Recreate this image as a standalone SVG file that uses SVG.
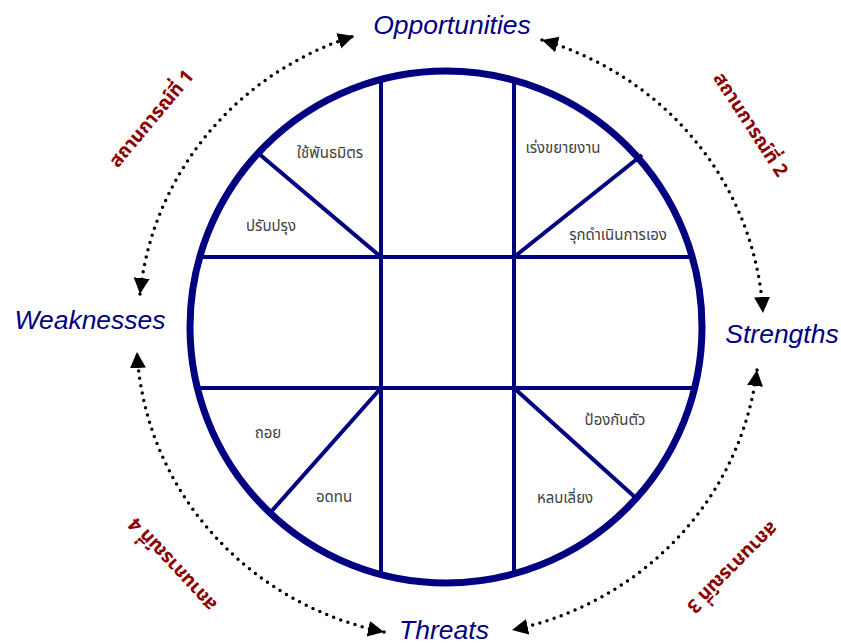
<svg xmlns="http://www.w3.org/2000/svg" width="841" height="644" viewBox="0 0 841 644">
<style>
.grid{stroke:#000080;stroke-width:4;fill:none;stroke-linecap:butt}
.ring{stroke:#000080;stroke-width:7;fill:none}
.cell{font-family:Tahoma,"Noto Sans Thai","Noto Sans","DejaVu Sans",sans-serif;font-size:15px;fill:#404040;text-anchor:middle}
.axis{font-family:"Liberation Sans",Arial,sans-serif;font-style:italic;font-size:26.5px;fill:#000080;text-anchor:middle}
.scen{font-family:Tahoma,"Noto Sans Thai","Noto Sans","DejaVu Sans",sans-serif;font-weight:bold;font-size:19px;fill:#8B0000;text-anchor:middle;dominant-baseline:central}
.dots{stroke:#000;stroke-width:3.5;fill:none;stroke-linecap:round;stroke-dasharray:0 7.5;marker-start:url(#ah);marker-end:url(#ah)}
</style>
<defs>
<marker id="ah" markerUnits="userSpaceOnUse" markerWidth="18" markerHeight="18" refX="16" refY="8" orient="auto-start-reverse" viewBox="0 0 18 18">
<path d="M0,0 L16,8 L0,16 z" fill="#000" stroke="none"/>
</marker>
</defs>
<g id="connectors">
<path class="dots" d="M140,294 A312,303 0 0 1 354,36"/>
<path class="dots" d="M542,40 A312,303 0 0 1 763,313"/>
<path class="dots" d="M757,370 A312,303 0 0 1 512,630"/>
<path class="dots" d="M384,632 A312,303 0 0 1 137,352"/>
</g>
<g id="wheel">
<line class="grid" x1="381" y1="79" x2="381" y2="575"/>
<line class="grid" x1="514" y1="79" x2="514" y2="575"/>
<line class="grid" x1="199" y1="257" x2="693" y2="257"/>
<line class="grid" x1="196" y1="388" x2="696" y2="388"/>
<line class="grid" x1="381" y1="257" x2="258" y2="153"/>
<line class="grid" x1="514" y1="257" x2="642" y2="155"/>
<line class="grid" x1="381" y1="388" x2="270" y2="513"/>
<line class="grid" x1="514" y1="388" x2="637" y2="499"/>
<circle class="ring" cx="446" cy="327" r="256"/>
</g>
<g id="cell-alliance"><text class="cell" x="330" y="158">ใช้พันธมิตร</text></g>
<g id="cell-improve"><text class="cell" x="271" y="231">ปรับปรุง</text></g>
<g id="cell-expand"><text class="cell" x="563" y="153">เร่งขยายงาน</text></g>
<g id="cell-attack"><text class="cell" x="618" y="240">รุกดำเนินการเอง</text></g>
<g id="cell-retreat"><text class="cell" x="268" y="438">ถอย</text></g>
<g id="cell-endure"><text class="cell" x="334" y="502">อดทน</text></g>
<g id="cell-defend"><text class="cell" x="615" y="425">ป้องกันตัว</text></g>
<g id="cell-avoid"><text class="cell" x="565" y="503">หลบเลี่ยง</text></g>
<g id="opportunities"><text class="axis" x="452" y="34">Opportunities</text></g>
<g id="weaknesses"><text class="axis" x="90" y="329">Weaknesses</text></g>
<g id="strengths"><text class="axis" x="782" y="343">Strengths</text></g>
<g id="threats"><text class="axis" x="444" y="639">Threats</text></g>
<g id="scenario-1"><text class="scen" x="152" y="119" transform="rotate(-50 152 119)">สถานการณ์ที่ 1</text></g>
<g id="scenario-2"><text class="scen" x="750" y="125" transform="rotate(57 750 125)">สถานการณ์ที่ 2</text></g>
<g id="scenario-3"><text class="scen" x="732" y="567" transform="rotate(135 732 567)">สถานการณ์ที่ 3</text></g>
<g id="scenario-4"><text class="scen" x="173" y="564" transform="rotate(227 173 564)">สถานการณ์ที่ 4</text></g>
</svg>
